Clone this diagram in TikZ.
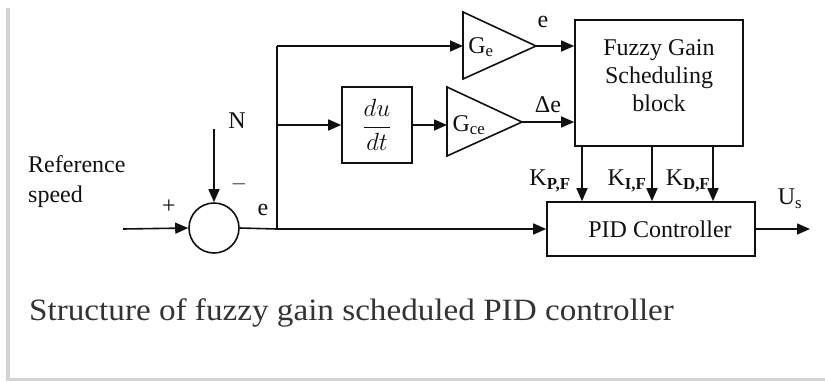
\documentclass[tikz,border=0pt]{standalone}
\usepackage{fontspec}
\setmainfont{Liberation Serif}
\newfontfamily\capfont[FakeStretch=1.07]{Liberation Serif}
\usetikzlibrary{arrows.meta}
\definecolor{ink}{HTML}{111111}
\definecolor{capgray}{HTML}{333333}
\definecolor{framegray}{HTML}{D4D4D4}
\begin{document}
\begin{tikzpicture}[x=1pt,y=-1pt,
  lbl/.style={font=\fontsize{24}{28}\selectfont, inner sep=0, text=ink},
  blk/.style={draw=ink, line width=1.6pt, inner sep=0},
  wire/.style={draw=ink, line width=1.6pt},
  conn/.style={wire, -{Triangle[length=13pt,width=11pt]}}]
\useasboundingbox (0,0) rectangle (825,381);
% frame
\draw[framegray, line width=3.5pt] (8,8) -- (8,381);
\draw[framegray, line width=3pt] (6.25,379.5) -- (825,379.5);
% blocks
\node[circle, blk, minimum size=50pt] (sum) at (214,228) {};
\node[blk, minimum width=168pt, minimum height=126pt] (fuzzy) at (659,83) {};
\node[lbl, align=center] (fuzzytext) at (659,76) {Fuzzy Gain\\Scheduling\\block};
\node[blk, minimum width=70pt, minimum height=76pt] (deriv) at (377,125) {};
\node[lbl] (derivtext) at (377,125) {$\displaystyle\frac{du}{dt}$};
\node[blk, minimum width=208pt, minimum height=54pt] (pid) at (651,229) {};
\node[lbl] (pidtext) at (660,229) {PID Controller};
% gain triangles
\draw[blk] (463,12) -- (536,46) -- (463,79) -- cycle;
\coordinate (gein) at (463,46);
\coordinate (geout) at (536,46);
\draw[blk] (447,87) -- (522,122) -- (447,156) -- cycle;
\coordinate (gcein) at (447,125);
\coordinate (gceout) at (522,122);
\node[lbl] (gelab) at (481,47) {G\textsubscript{e}};
\node[lbl] (gcelab) at (469,125) {G\textsubscript{ce}};
% helper coordinates
\coordinate (in) at (123,229);
\coordinate (nin) at (214,129);
\coordinate (j) at (277,229);
\coordinate (jm) at (277,125);
\coordinate (jt) at (277,46);
\coordinate (out) at (810,229);
\coordinate (kpx) at (582,0);
\coordinate (kix) at (652,0);
\coordinate (kdx) at (713,0);
% connectors
\draw[conn] (in) -- (sum.west);
\draw[conn] (nin) -- (sum.north);
\draw[wire] (sum.east) -- (j);
\draw[conn] (j) -- (pid.west);
\draw[wire] (j) -- (jt);
\draw[conn] (jt) -- (gein);
\draw[conn] (jm) -- (deriv.west);
\draw[conn] (deriv.east) -- (gcein);
\draw[conn] (geout) -- (fuzzy.west |- geout);
\draw[conn] (gceout) -- (fuzzy.west |- gceout);
\draw[conn] (fuzzy.south -| kpx) -- (pid.north -| kpx);
\draw[conn] (fuzzy.south -| kix) -- (pid.north -| kix);
\draw[conn] (fuzzy.south -| kdx) -- (pid.north -| kdx);
\draw[conn] (pid.east) -- (out);
% labels
\node[lbl] (nlab) at (237,121) {N};
\node[lbl, font=\fontsize{20}{24}\selectfont] (minus) at (239,184) {$-$};
\node[lbl] (plus) at (169,207) {+};
\node[lbl] (elab) at (263,210) {e};
\node[lbl, align=left, anchor=west, font=\fontsize{24}{30}\selectfont] (ref) at (28,182) {Reference\\speed};
\node[lbl] (eout) at (543,22) {e};
\node[lbl] (delab) at (548,105) {Δe};
\node[lbl] (kp) at (550,181) {K\textsubscript{\textbf{P,F}}};
\node[lbl] (ki) at (627,181) {K\textsubscript{\textbf{I,F}}};
\node[lbl] (kd) at (688,181) {K\textsubscript{\textbf{D,F}}};
\node[lbl] (us) at (790,199) {U\textsubscript{s}};
% caption
\node[anchor=base west, inner sep=0, text=capgray, font=\capfont\fontsize{31}{36}\selectfont] (cap) at (29,320) {Structure of fuzzy gain scheduled PID controller};
\end{tikzpicture}
\end{document}
